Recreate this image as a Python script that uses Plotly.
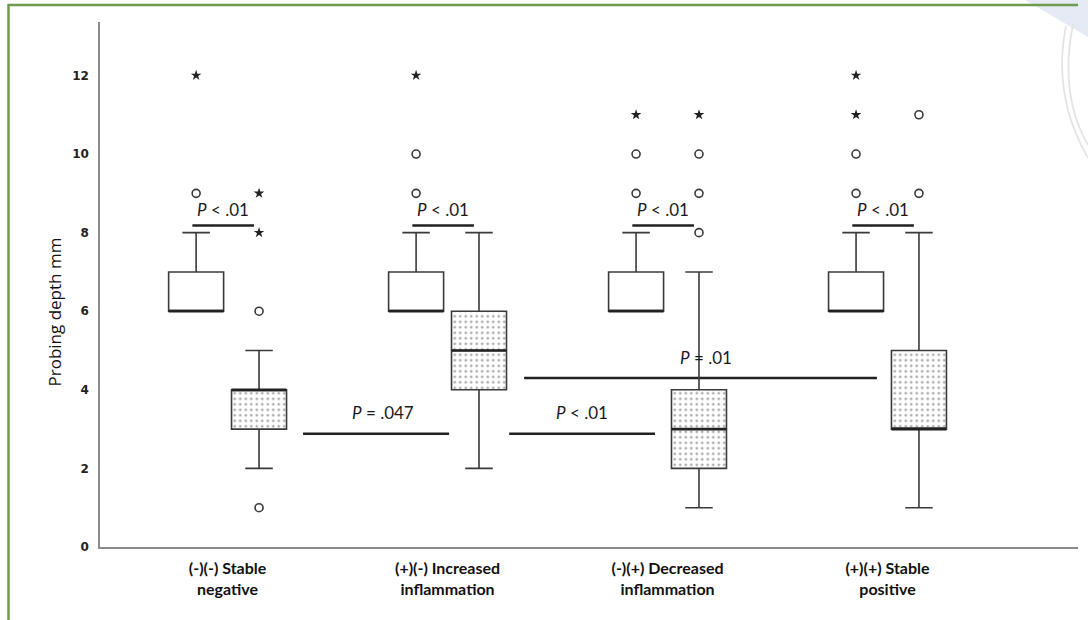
import plotly.graph_objects as go

# ---------------- data ----------------
categories = ["(-)(-) Stable<br>negative", "(+)(-) Increased<br>inflammation",
              "(-)(+) Decreased<br>inflammation", "(+)(+) Stable<br>positive"]
cat_pos = [1, 2, 3, 4]

# white boxes (first measurement)
w_low = [6, 6, 6, 6]
w_q1 = [6, 6, 6, 6]
w_med = [6, 6, 6, 6]
w_q3 = [7, 7, 7, 7]
w_high = [8, 8, 8, 8]
w_out_circle = [[9], [9, 10], [9, 10], [9, 10]]
w_out_star = [[12], [12], [11], [11, 12]]

# dotted boxes (second measurement)
d_low = [2, 2, 1, 1]
d_q1 = [3, 4, 2, 3]
d_med = [4, 5, 3, 3]
d_q3 = [4, 6, 4, 5]
d_high = [5, 8, 7, 8]
d_out_circle = [[1, 6], [], [8, 9, 10], [9, 11]]
d_out_star = [[8, 9], [], [11], []]

# significance annotations
within_y = [8.18, 8.18, 8.18, 8.18]
within_lbl = ["<i>P</i> < .01"] * 4

between_x0 = [1.343, 2.28, 2.348]
between_x1 = [2.007, 2.943, 3.952]
between_y = [2.88, 2.88, 4.3]
between_lbl_x = [1.707, 2.611, 3.175]
between_lbl_y = [3.42, 3.42, 4.82]
between_lbl = ["<i>P</i> = .047", "<i>P</i> < .01", "<i>P</i> = .01"]

OFF = 0.143
BW = 0.25
LINE = "#3a3a3a"

fig = go.Figure()

# dotted fill under second boxes
fig.add_trace(go.Bar(
    x=[p + OFF for p in cat_pos],
    y=[q3 - q1 for q1, q3 in zip(d_q1, d_q3)],
    base=d_q1, width=BW,
    marker=dict(color="white", line=dict(width=0),
                pattern=dict(shape=".", fgcolor="#555555", bgcolor="white",
                             size=5.5, solidity=0.2)),
    showlegend=False, hoverinfo="skip"))

for i, p in enumerate(cat_pos):
    for xc, q1, med, q3, lo, hi, fill in [
        (p - OFF, w_q1[i], w_med[i], w_q3[i], w_low[i], w_high[i], "white"),
        (p + OFF, d_q1[i], d_med[i], d_q3[i], d_low[i], d_high[i], "rgba(0,0,0,0)")]:
        fig.add_trace(go.Box(
            x=[xc], q1=[q1], median=[med], q3=[q3],
            lowerfence=[lo], upperfence=[hi],
            width=BW, whiskerwidth=0.5, fillcolor=fill,
            line=dict(color=LINE, width=1.6), boxpoints=False, showlegend=False))
        # thicker median line
        fig.add_trace(go.Scatter(
            x=[xc - BW / 2, xc + BW / 2], y=[med, med], mode="lines",
            line=dict(color="#222222", width=2.6), showlegend=False, hoverinfo="skip"))

    for xs, vals in [(p - OFF, w_out_circle[i]), (p + OFF, d_out_circle[i])]:
        if vals:
            fig.add_trace(go.Scatter(
                x=[xs] * len(vals), y=vals, mode="markers",
                marker=dict(symbol="circle-open", size=8, color=LINE, line=dict(width=1.6)),
                showlegend=False))
    for xs, vals in [(p - OFF, w_out_star[i]), (p + OFF, d_out_star[i])]:
        if vals:
            fig.add_trace(go.Scatter(
                x=[xs] * len(vals), y=vals, mode="markers",
                marker=dict(symbol="star", size=8, color="#222222", line=dict(width=0)),
                showlegend=False))

shapes = []
annotations = []
TXT = dict(family="Lato, Open Sans, sans-serif", size=17, color="#1a1a1a")

# within-group lines (white box centre to dotted box centre)
for i, p in enumerate(cat_pos):
    x0 = p - 0.16
    x1 = p + 0.12
    shapes.append(dict(type="line", xref="x", yref="y", x0=x0, x1=x1,
                       y0=within_y[i], y1=within_y[i],
                       line=dict(color="#222222", width=2.5)))
    annotations.append(dict(x=(x0 + x1) / 2, y=within_y[i] + 0.42, xref="x", yref="y",
                            text=within_lbl[i], showarrow=False, font=TXT))

for x0, x1, y, lx, ly, lbl in zip(between_x0, between_x1, between_y,
                                  between_lbl_x, between_lbl_y, between_lbl):
    shapes.append(dict(type="line", xref="x", yref="y", x0=x0, x1=x1, y0=y, y1=y,
                       line=dict(color="#222222", width=2.5), layer="below"))
    annotations.append(dict(x=lx, y=ly, xref="x", yref="y", text=lbl,
                            showarrow=False, font=TXT))

# page decorations (green frame & faint corner motif)
def px(xp):
    return (xp - 100) / 978.0

def py(yp):
    return (547 - yp) / 525.0

shapes.append(dict(type="path", xref="paper", yref="paper",
                   path=f"M {px(1025)} {py(0)} L {px(1088)} {py(0)} L {px(1088)} {py(37)} Z",
                   fillcolor="#e6eaf4", line=dict(width=0), layer="below"))
shapes.append(dict(type="path", xref="paper", yref="paper",
                   path=f"M {px(1066)} {py(26)} Q {px(1052)} {py(95)} {px(1088)} {py(158)}",
                   line=dict(color="#e4e4e4", width=1.8)))
shapes.append(dict(type="path", xref="paper", yref="paper",
                   path=f"M {px(1073)} {py(24)} Q {px(1059)} {py(95)} {px(1088)} {py(145)}",
                   line=dict(color="#e4e4e4", width=1.8)))
shapes.append(dict(type="line", xref="paper", yref="paper",
                   x0=px(8), x1=px(1078), y0=py(5), y1=py(5),
                   line=dict(color="#6e9c4c", width=2.5)))
shapes.append(dict(type="line", xref="paper", yref="paper",
                   x0=px(8.5), x1=px(8.5), y0=py(4), y1=py(625),
                   line=dict(color="#6e9c4c", width=2.5)))

annotations.append(dict(x=px(40), y=py(312), xref="paper", yref="paper",
                        text="Probing depth mm", textangle=-90, showarrow=False,
                        font=dict(family="Open Sans, sans-serif", size=17, color="#111111")))

fig.update_layout(
    width=1088, height=620,
    margin=dict(l=100, r=10, t=22, b=73),
    paper_bgcolor="white", plot_bgcolor="white",
    barmode="overlay", boxmode="overlay",
    shapes=shapes, annotations=annotations,
    xaxis=dict(range=[0.42, 4.866], tickvals=cat_pos, ticktext=categories,
               showgrid=False, zeroline=False, showline=True, linecolor="#8a8a8a",
               linewidth=1.5, ticks="", ticklabelstandoff=6,
               tickfont=dict(family="Lato, sans-serif", size=16, color="#111111",
                             weight="bold")),
    yaxis=dict(range=[0, 13.36], tickvals=[0, 2, 4, 6, 8, 10, 12],
               showgrid=False, zeroline=False, showline=True, linecolor="#8a8a8a",
               linewidth=1.5, ticks="", ticklabelstandoff=7,
               tickfont=dict(family="DejaVu Sans, sans-serif", size=12,
                             color="#222222", weight="bold")),
)

fig.write_html("out.html", config={"displayModeBar": False},
               post_script="document.body.style.margin='0';")
